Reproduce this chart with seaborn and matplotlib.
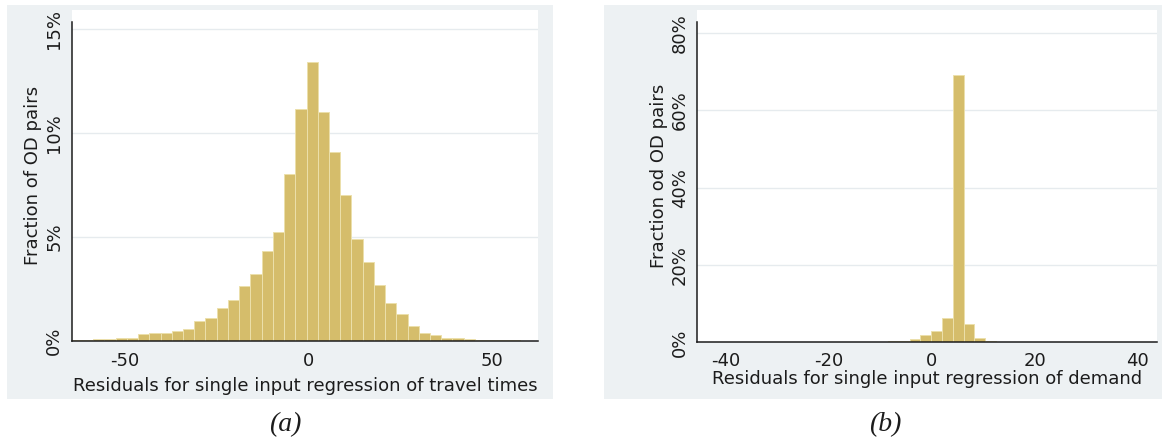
import numpy as np
import pandas as pd
import matplotlib
matplotlib.use("Agg")
import matplotlib.pyplot as plt
import seaborn as sns
from matplotlib.patches import Rectangle

# ---------------- data ----------------
# (a) residuals of travel-time regression: fraction (%) per bin, left to right
travel_bin_start = -64.55
travel_bin_width = 3.05
travel_pct = [0.03, 0.04, 0.05, 0.07, 0.10, 0.14, 0.30, 0.37, 0.37, 0.44, 0.54,
              0.93, 1.09, 1.55, 1.96, 2.61, 3.21, 4.32, 5.25, 8.00, 11.15,
              13.40,
              11.00, 9.10, 7.00, 4.90, 3.80, 2.67, 1.80, 1.30, 0.68, 0.36,
              0.28, 0.13, 0.10, 0.05, 0.04, 0.03, 0.02, 0.01]

# (b) residuals of demand regression: fraction (%) per bin, left to right
demand_bin_start = -42.1
demand_bin_width = 2.1
demand_pct = [0.10, 0.12, 0.12, 0.14, 0.15, 0.15, 0.15, 0.15, 0.15, 0.15, 0.16,
              0.16, 0.18, 0.18, 0.20, 0.25, 0.30, 0.45, 0.85, 1.90, 2.90, 6.30,
              69.00,
              4.80, 1.10, 0.45, 0.25, 0.15, 0.12, 0.10, 0.10, 0.10, 0.08, 0.08,
              0.08, 0.07, 0.07, 0.06, 0.05]

travel_xticks = [-50, 0, 50]
travel_yticks = [0, 5, 10, 15]
demand_xticks = [-40, -20, 0, 20, 40]
demand_yticks = [0, 20, 40, 60, 80]

travel_xlabel = "Residuals for single input regression of travel times"
travel_ylabel = "Fraction of OD pairs"
demand_xlabel = "Residuals for single input regression of demand"
demand_ylabel = "Fraction od OD pairs"
captions = ["(a)", "(b)"]

# ---------------- style ----------------
sns.set_style("white")
plt.rcParams["font.family"] = ["DejaVu Sans"]

W, H = 1164, 444
BAR = "#d5bd6b"
BAR_EDGE = "#ece0ab"
PANEL = "#edf1f3"
GRID = "#e6ebee"
INK = "#1c1c1c"
FS = 13

fig = plt.figure(figsize=(W / 100, H / 100), dpi=100)
fig.patch.set_facecolor("white")

def px_rect(x0, y0, x1, y1):
    return [x0 / W, 1 - y1 / H, (x1 - x0) / W, (y1 - y0) / H]

# grey graph regions
for (x0, y0, x1, y1) in [(7, 5, 553, 399), (604, 5, 1162, 399)]:
    r = px_rect(x0, y0, x1, y1)
    fig.patches.append(Rectangle((r[0], r[1]), r[2], r[3], transform=fig.transFigure,
                                 facecolor=PANEL, edgecolor="none", zorder=-5))

def make_panel(rect_px, values, start, width, xlim, ylim, spine_top,
               xticks, yticks, xlabel, ylabel, xpad, xlabelpad):
    ax = fig.add_axes(px_rect(*rect_px))
    ax.set_facecolor("white")
    n = len(values)
    edges = start + width * np.arange(n + 1)
    centers = edges[:-1] + width / 2
    df = pd.DataFrame({"resid": centers, "pct": values})
    sns.histplot(data=df, x="resid", weights="pct", bins=edges.tolist(), ax=ax,
                 color=BAR, edgecolor=BAR_EDGE, linewidth=0.7, alpha=1.0, zorder=3)
    ax.set_xlim(*xlim)
    ax.set_ylim(*ylim)
    ax.set_yticks(yticks)
    ax.set_yticklabels([f"{v}%" for v in yticks])
    ax.set_xticks(xticks)
    ax.set_xticklabels([str(v) for v in xticks])
    for y in yticks[1:]:
        ax.axhline(y, color=GRID, lw=1.0, zorder=1)
    for s in ["top", "right"]:
        ax.spines[s].set_visible(False)
    for s in ["left", "bottom"]:
        ax.spines[s].set_color(INK)
        ax.spines[s].set_linewidth(1.1)
        ax.spines[s].set_zorder(4)
    ax.spines["left"].set_bounds(0, spine_top)
    ax.tick_params(axis="both", direction="out", length=4.2, width=0.9,
                   color=INK, labelsize=FS, labelcolor=INK)
    ax.tick_params(axis="y", labelrotation=90, pad=2.0)
    ax.tick_params(axis="x", pad=xpad)
    for lab in ax.get_yticklabels():
        lab.set_va("center")
    ax.set_xlabel(xlabel, fontsize=FS, color=INK, labelpad=xlabelpad)
    ax.set_ylabel(ylabel, fontsize=FS, color=INK, labelpad=2.0)
    ax.grid(False)
    return ax

make_panel((71.7, 10, 538, 340.5), travel_pct, travel_bin_start, travel_bin_width,
           (-64.3, 62.4), (0, 330.5 / 20.75), 15.37,
           travel_xticks, travel_yticks, travel_xlabel, travel_ylabel,
           xpad=3.8, xlabelpad=5.5)

make_panel((697.3, 10, 1157, 342.5), demand_pct, demand_bin_start, demand_bin_width,
           (-45.6, 43.8), (0, 332.5 / 3.87), 82.9,
           demand_xticks, demand_yticks, demand_xlabel, demand_ylabel,
           xpad=2.5, xlabelpad=0.2)

for cx, txt in zip([285, 885], captions):
    fig.text(cx / W, 1 - 425 / H, txt, ha="center", va="center", fontsize=20,
             style="italic", family=["Liberation Serif", "DejaVu Serif"], color=INK)

fig.savefig("out.png", dpi=100, facecolor="white")
